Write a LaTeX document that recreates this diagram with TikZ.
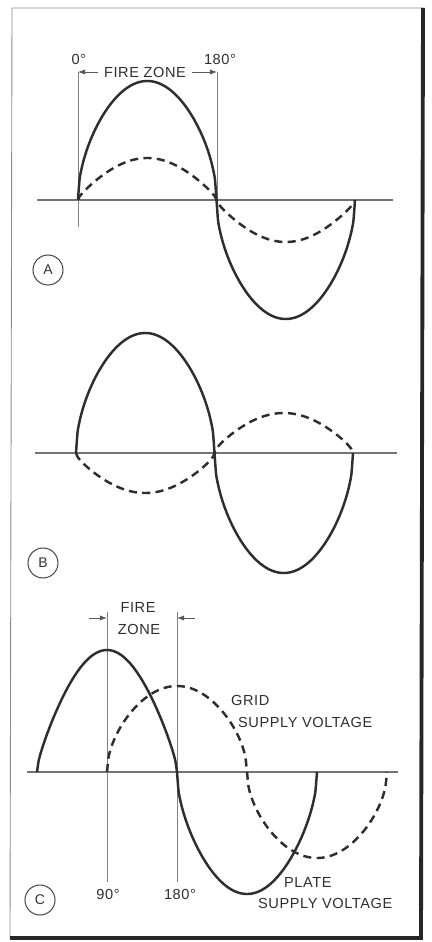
\documentclass[tikz,border=0pt]{standalone}
\usepackage{fontspec}
\setmainfont{Liberation Sans}[LetterSpace=4]
\usepackage{tikz}
\usetikzlibrary{arrows.meta,positioning}
\tikzset{
  %% lobe shape: w=0 plain sine, w=1 rounded (egg) lobe
  declare function={lobe(\s,\w)=sign(\s)*(\w*sqrt(abs(\s))+(1-\w)*abs(\s));},
  %% Wave curves
  wfSolid/.style={line width=1.4pt, draw=black!82},
  wfDash/.style={line width=1.4pt, draw=black!82, dash pattern=on 4.6pt off 3pt},
  %% Axis and reference lines
  wfAxis/.style={line width=0.6pt, draw=black!55},
  wfRef/.style={line width=0.45pt, draw=black!50},
  %% Fire zone arrows
  wfDim/.style={-{Latex[length=4pt,width=3pt]}, line width=0.5pt, draw=black!65},
  %% Lettering
  wfText/.style={font=\fontsize{8.3}{10}\selectfont, text=black!82, inner sep=1pt},
  wfTag/.style={circle, draw=black!70, line width=0.6pt, minimum size=0.6cm, inner sep=0pt,
    font=\fontsize{8}{9}\selectfont, text=black!80},
}
\begin{document}
\begin{tikzpicture}[x=0.02cm, y=-0.02cm]
\useasboundingbox (0,0) rectangle (432,942);

%% Frame
\coordinate (frTL) at (12,8);
\coordinate (frTR) at (423,8);
\coordinate (frBR) at (421,938);
\coordinate (frBL) at (10,938);
\draw[line width=0.5pt, black!45] (frTR) -- (frTL) -- (frBL);
\draw[line width=2.2pt, black!85] (frTR) -- (frBR) -- (frBL);

%% Panel A
\coordinate (aL) at (37,200);
\coordinate (aR) at (393,200);
\draw[wfAxis] (aL) -- (aR);
\coordinate (a0t) at (78,72);
\coordinate (a0b) at (78,227);
\coordinate (a180t) at (217,72);
\coordinate (a180b) at (217,205);
\draw[wfRef] (a0t) -- (a0b);
\draw[wfRef] (a180t) -- (a180b);
\node[wfText] (aDeg0)   at (79,59)  {0°};
\node[wfText] (aDeg180) at (220,59) {180°};
\node[wfText] (aZone)   at (145,72) {FIRE ZONE};
\draw[wfDim, shorten <=2pt] (aZone.west) -- (a0t);
\draw[wfDim, shorten <=2pt] (aZone.east) -- (a180t);
\draw[wfSolid] plot[domain=0:360, samples=181, smooth] ({78+\x/360*277},{200-119*lobe(sin(\x),0.9)});
\draw[wfDash]  plot[domain=0:360, samples=181, smooth] ({78+\x/360*277},{200-42*lobe(sin(\x),0.3)});
\node[wfTag] (tagA) at (48,270) {A};

%% Panel B
\coordinate (bL) at (35,453);
\coordinate (bR) at (397,453);
\draw[wfAxis] (bL) -- (bR);
\draw[wfSolid] plot[domain=0:360, samples=181, smooth] ({76+\x/360*277},{453-120*lobe(sin(\x),0.9)});
\draw[wfDash]  plot[domain=0:360, samples=181, smooth] ({76+\x/360*277},{453+40*lobe(sin(\x),0.4)});
\node[wfTag] (tagB) at (43,563) {B};

%% Panel C
\coordinate (cL) at (27,772);
\coordinate (cR) at (398,772);
\draw[wfAxis] (cL) -- (cR);
\coordinate (c90t) at (107,612);
\coordinate (c90b) at (107,882);
\coordinate (c180t) at (177,612);
\coordinate (c180b) at (177,882);
\draw[wfRef] (c90t) -- (c90b);
\draw[wfRef] (c180t) -- (c180b);
\node[wfText] (cFire) at (138,607) {FIRE};
\node[wfText] (cZone) at (139,629) {ZONE};
\coordinate (c90s)  at (89,618);
\coordinate (c90m)  at (107,618);
\coordinate (c180s) at (195,618);
\coordinate (c180m) at (177,618);
\draw[wfDim] (c90s) -- (c90m);
\draw[wfDim] (c180s) -- (c180m);
\draw[wfSolid] plot[domain=0:180, samples=91, smooth] ({37+\x/360*280},{772-122*lobe(sin(\x),0.35)})
  -- plot[domain=180:360, samples=91, smooth] ({37+\x/360*280},{772-122*lobe(sin(\x),0.8)});
\draw[wfDash]  plot[domain=0:360, samples=181, smooth] ({107+\x/360*280},{772-86*lobe(sin(\x),0.9)});
\node[wfText, anchor=west] (cGrid)   at (229,700)   {GRID};
\node[wfText, anchor=west] (cGridSV) at (236,722.5) {SUPPLY VOLTAGE};
\node[wfText, anchor=west] (cPlate)  at (282,882.5) {PLATE};
\node[wfText, anchor=west] (cPlateSV) at (256,903.5) {SUPPLY VOLTAGE};
\node[wfText] (cDeg90)  at (108,894) {90°};
\node[wfText] (cDeg180) at (180,894) {180°};
\node[wfTag] (tagC) at (40,900) {C};

\end{tikzpicture}
\end{document}
